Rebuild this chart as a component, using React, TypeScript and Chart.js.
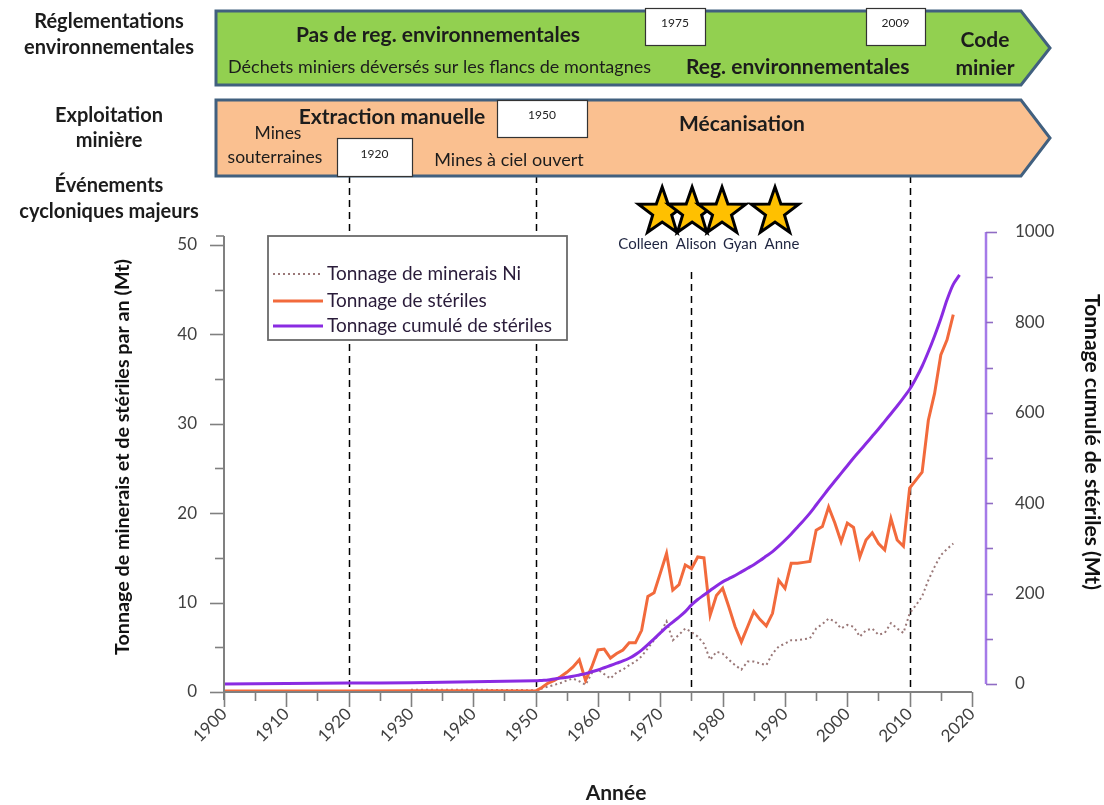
import React, { useEffect, useRef } from 'react';
import { Chart, registerables } from 'chart.js';
Chart.register(...registerables);

const years = [1900, 1910, 1920, 1930, 1940,
  1950, 1951, 1952, 1953, 1954, 1955, 1956, 1957, 1958, 1959,
  1960, 1961, 1962, 1963, 1964, 1965, 1966, 1967, 1968, 1969,
  1970, 1971, 1972, 1973, 1974, 1975, 1976, 1977, 1978, 1979,
  1980, 1981, 1982, 1983, 1984, 1985, 1986, 1987, 1988, 1989,
  1990, 1991, 1992, 1993, 1994, 1995, 1996, 1997, 1998, 1999,
  2000, 2001, 2002, 2003, 2004, 2005, 2006, 2007, 2008, 2009,
  2010, 2011, 2012, 2013, 2014, 2015, 2016, 2017, 2018];

const minerai = [null, null, null, 0.25, 0.25,
  0.2, 0.4, 0.6, 0.8, 1.0, 1.3, 1.5, 1.2, 0.8, 2.1,
  2.5, 2.0, 1.5, 2.2, 2.5, 3.0, 3.4, 4.0, 4.9, 5.8,
  6.6, 7.9, 5.8, 6.4, 7.1, 6.7, 6.2, 5.4, 3.6, 4.5,
  4.3, 3.6, 3.0, 2.5, 3.4, 3.4, 3.2, 3.0, 4.3, 5.1,
  5.4, 5.8, 5.8, 5.9, 6.0, 7.1, 7.6, 8.2, 7.9, 7.1,
  7.5, 7.3, 6.2, 6.9, 7.1, 6.4, 6.6, 7.7, 7.1, 6.6,
  8.8, 9.7, 10.7, 12.5, 14.0, 15.3, 16.0, 16.6, null];

const steriles = [0.1, 0.1, 0.1, 0.15, 0.15,
  0.1, 0.5, 1.0, 1.3, 1.7, 2.2, 2.8, 3.6, 1.3, 2.8,
  4.7, 4.8, 3.8, 4.3, 4.7, 5.5, 5.5, 6.9, 10.7, 11.1,
  13.3, 15.5, 11.4, 12.0, 14.2, 13.8, 15.1, 15.0, 8.6, 10.8,
  11.6, 9.5, 7.3, 5.6, 7.3, 9.0, 8.1, 7.4, 8.8, 12.5,
  11.6, 14.4, 14.4, 14.5, 14.6, 18.1, 18.5, 20.7, 18.9, 16.8,
  18.9, 18.4, 15.1, 17.0, 17.8, 16.6, 15.9, 19.4, 17.0, 16.3,
  22.8, 23.7, 24.6, 30.4, 33.4, 37.7, 39.4, 42.2, null];

const cumul = [0, 1, 2, 3, 5,
  7, 8, 9, 11, 13, 15, 17, 20, 23, 27,
  31, 36, 41, 46, 51, 57, 65, 75, 87, 100,
  113, 126, 137, 148, 160, 175, 187, 197, 207, 217,
  226, 233, 240, 248, 256, 264, 273, 283, 293, 305,
  318, 332, 347, 362, 378, 396, 414, 432, 449, 466,
  483, 500, 516, 532, 548, 564, 581, 598, 615, 633,
  652, 676, 703, 735, 770, 808, 850, 884, 905];

const seriesLabels = ['Tonnage de minerais Ni', 'Tonnage de stériles', 'Tonnage cumulé de stériles'];
const xTicks = [1900, 1905, 1910, 1915, 1920, 1925, 1930, 1935, 1940, 1945, 1950, 1955, 1960, 1965, 1970, 1975, 1980, 1985, 1990, 1995, 2000, 2005, 2010, 2015, 2020];
const leftTicks = [0, 5, 10, 15, 20, 25, 30, 35, 40, 45, 50];
const rightTicks = [0, 100, 200, 300, 400, 500, 600, 700, 800, 900, 1000];
const markerYears = [1920, 1950, 1975, 2010];
const cycloneNames = ['Colleen', 'Alison', 'Gyan', 'Anne'];
const cycloneYears = [1970.3, 1975.1, 1979.9, 1988.4];

const xTitle = 'Année';
const leftTitle = 'Tonnage de minerais et de stériles par an (Mt)';
const rightTitle = 'Tonnage cumulé de stériles (Mt)';

const FONT = 'Lato, "Open Sans", sans-serif';
const C_NI = '#9a7878';
const C_ST = '#f26a3c';
const C_CU = '#8a2be2';

function star(ctx: CanvasRenderingContext2D, cx: number, cy: number, R: number, r: number) {
  ctx.beginPath();
  for (let i = 0; i < 10; i++) {
    const a = -Math.PI / 2 + (i * Math.PI) / 5;
    const rad = i % 2 === 0 ? R : r;
    const px = cx + rad * Math.cos(a);
    const py = cy + rad * Math.sin(a);
    if (i === 0) ctx.moveTo(px, py); else ctx.lineTo(px, py);
  }
  ctx.closePath();
}

function band(ctx: CanvasRenderingContext2D, x0: number, y0: number, y1: number, xc: number, xt: number, fill: string) {
  ctx.beginPath();
  ctx.moveTo(x0, y0);
  ctx.lineTo(xc, y0);
  ctx.lineTo(xt, (y0 + y1) / 2);
  ctx.lineTo(xc, y1);
  ctx.lineTo(x0, y1);
  ctx.closePath();
  ctx.fillStyle = fill;
  ctx.fill();
  ctx.lineWidth = 3;
  ctx.strokeStyle = '#41607f';
  ctx.lineJoin = 'miter';
  ctx.stroke();
}

function text(ctx: CanvasRenderingContext2D, s: string, x: number, y: number, font: string, align: CanvasTextAlign = 'center', color = '#1c1c1c') {
  ctx.font = font;
  ctx.textAlign = align;
  ctx.textBaseline = 'middle';
  ctx.fillStyle = color;
  ctx.fillText(s, x, y);
}

function box(ctx: CanvasRenderingContext2D, x0: number, y0: number, x1: number, y1: number, label: string) {
  ctx.fillStyle = '#ffffff';
  ctx.fillRect(x0, y0, x1 - x0, y1 - y0);
  ctx.lineWidth = 1.2;
  ctx.strokeStyle = '#333333';
  ctx.setLineDash([]);
  ctx.strokeRect(x0 + 0.5, y0 + 0.5, x1 - x0, y1 - y0);
  text(ctx, label, (x0 + x1) / 2, (y0 + y1) / 2 - 3, `12px ${FONT}`, 'center', '#222');
}

const overlay = {
  id: 'overlay',
  beforeDatasetsDraw(chart: any) {
    const ctx = chart.ctx as CanvasRenderingContext2D;
    const xs = chart.scales.x;
    const yl = chart.scales.y;
    const tops = [176, 176, 272, 176];
    ctx.save();
    ctx.setLineDash([7, 5]);
    ctx.strokeStyle = '#000';
    ctx.lineWidth = 1.5;
    markerYears.forEach((yr, i) => {
      const px = Math.round(xs.getPixelForValue(yr)) + 0.5;
      ctx.beginPath();
      ctx.moveTo(px, tops[i]);
      ctx.lineTo(px, yl.getPixelForValue(0));
      ctx.stroke();
    });
    ctx.restore();
  },
  afterDraw(chart: any) {
    const ctx = chart.ctx as CanvasRenderingContext2D;
    const xs = chart.scales.x;
    const yl = chart.scales.y;
    const yr = chart.scales.y1;
    const ca = chart.chartArea;
    ctx.save();
    ctx.setLineDash([]);

    // left axis
    const y0 = yl.getPixelForValue(0);
    ctx.strokeStyle = '#808080';
    ctx.lineWidth = 2;
    ctx.beginPath();
    ctx.moveTo(ca.left, yl.getPixelForValue(50) - 9);
    ctx.lineTo(ca.left, y0 + 8);
    ctx.stroke();
    ctx.lineWidth = 1.6;
    leftTicks.forEach((v) => {
      const py = Math.round(yl.getPixelForValue(v)) + 0.5;
      const len = v % 10 === 0 ? 14 : 9;
      ctx.beginPath();
      ctx.moveTo(ca.left - len, py);
      ctx.lineTo(ca.left, py);
      ctx.stroke();
    });
    ctx.beginPath();
    ctx.moveTo(ca.left - 8, yl.getPixelForValue(50) - 9);
    ctx.lineTo(ca.left, yl.getPixelForValue(50) - 9);
    ctx.stroke();

    // x axis
    const xEnd = xs.getPixelForValue(2020);
    ctx.lineWidth = 2;
    ctx.beginPath();
    ctx.moveTo(ca.left, y0);
    ctx.lineTo(xEnd, y0);
    ctx.stroke();
    ctx.lineWidth = 1.6;
    xTicks.forEach((v) => {
      const px = Math.round(xs.getPixelForValue(v)) + 0.5;
      const len = v % 10 === 0 ? 15 : 9;
      ctx.beginPath();
      ctx.moveTo(px, y0);
      ctx.lineTo(px, y0 + len);
      ctx.stroke();
    });

    // right axis
    const rx = ca.right;
    const r0 = yr.getPixelForValue(0);
    const r1 = yr.getPixelForValue(1000);
    ctx.strokeStyle = '#a57ae8';
    ctx.lineWidth = 2.5;
    ctx.beginPath();
    ctx.moveTo(rx, r1);
    ctx.lineTo(rx, r0);
    ctx.stroke();
    ctx.lineWidth = 1.6;
    ctx.strokeStyle = '#8f6cc4';
    rightTicks.forEach((v) => {
      const py = Math.round(yr.getPixelForValue(v)) + 0.5;
      const len = v === 0 || v === 1000 ? 11 : 7;
      ctx.beginPath();
      ctx.moveTo(rx, py);
      ctx.lineTo(rx + len, py);
      ctx.stroke();
    });

    // axis titles
    text(ctx, xTitle, 616, 793, `bold 21px ${FONT}`, 'center', '#1c1c1c');
    ctx.save();
    ctx.translate(123, 457);
    ctx.rotate(-Math.PI / 2);
    text(ctx, leftTitle, 0, 0, `bold 19.7px ${FONT}`, 'center', '#111');
    ctx.restore();
    ctx.save();
    ctx.translate(1092, 442);
    ctx.rotate(Math.PI / 2);
    text(ctx, rightTitle, 0, 0, `bold 21px ${FONT}`, 'center', '#111');
    ctx.restore();

    // legend
    const ds = chart.data.datasets;
    ctx.fillStyle = '#fff';
    ctx.fillRect(268, 236, 299, 104);
    ctx.strokeStyle = '#6a6a6a';
    ctx.lineWidth = 1.8;
    ctx.strokeRect(268, 236, 299, 104);
    const ly = [274, 301, 326];
    [0, 1, 2].forEach((i) => {
      const d = ds[i];
      ctx.strokeStyle = d.borderColor;
      ctx.lineWidth = i === 0 ? 2 : 3;
      ctx.setLineDash(i === 0 ? [2, 3] : []);
      ctx.beginPath();
      ctx.moveTo(273, ly[i]);
      ctx.lineTo(323, ly[i]);
      ctx.stroke();
      ctx.setLineDash([]);
      text(ctx, seriesLabels[i], 327, ly[i], `19px ${FONT}`, 'left', '#2a1c3a');
    });

    // stars
    const labelOff = [-19, 4, 18, 7];
    cycloneYears.forEach((yv) => {
      const cx = xs.getPixelForValue(yv);
      star(ctx, cx, 212, 25, 10);
      ctx.fillStyle = '#ffc000';
      ctx.fill();
      ctx.lineWidth = 3;
      ctx.strokeStyle = '#000';
      ctx.lineJoin = 'miter';
      ctx.stroke();
    });
    cycloneYears.forEach((yv, i) => {
      const cx = xs.getPixelForValue(yv);
      text(ctx, cycloneNames[i], cx + labelOff[i], 244, `15px ${FONT}`, 'center', '#1f2540');
    });

    // timeline bands
    band(ctx, 216, 11, 85, 1021, 1050, '#92d050');
    band(ctx, 216, 100, 176, 1021, 1050, '#fac090');

    text(ctx, 'Pas de reg. environnementales', 438, 35, `bold 21px ${FONT}`);
    text(ctx, 'Déchets miniers déversés sur les flancs de montagnes', 228, 67, `18px ${FONT}`, 'left');
    text(ctx, 'Reg. environnementales', 686, 67, `bold 21px ${FONT}`, 'left');
    text(ctx, 'Code', 985, 40, `bold 21px ${FONT}`);
    text(ctx, 'minier', 985, 68, `bold 21px ${FONT}`);
    box(ctx, 645, 8, 705, 45, '1975');
    box(ctx, 866, 8, 925, 45, '2009');

    text(ctx, 'Extraction manuelle', 392, 117, `bold 21px ${FONT}`);
    text(ctx, 'Mines', 278, 133, `17.5px ${FONT}`);
    text(ctx, 'souterraines', 275, 157, `17.5px ${FONT}`);
    box(ctx, 337, 138, 412, 176, '1920');
    box(ctx, 497, 100, 587, 137, '1950');
    text(ctx, 'Mines à ciel ouvert', 509, 160, `18px ${FONT}`);
    text(ctx, 'Mécanisation', 742, 124, `bold 21px ${FONT}`);

    // left labels
    const lf = `bold 20px ${FONT}`;
    text(ctx, 'Réglementations', 109, 22, lf);
    text(ctx, 'environnementales', 109, 48, lf);
    text(ctx, 'Exploitation', 109, 116, lf);
    text(ctx, 'minière', 109, 141, lf);
    text(ctx, 'Événements', 109, 186, lf);
    text(ctx, 'cycloniques majeurs', 109, 212, lf);

    ctx.restore();
  },
};

export default function App() {
  const ref = useRef<HTMLCanvasElement>(null);
  useEffect(() => {
    const pts = (arr: (number | null)[]) => years.map((yv, i) => ({ x: yv, y: arr[i] }));
    const chart = new Chart(ref.current!, {
      type: 'line',
      data: {
        datasets: [
          { label: seriesLabels[0], data: pts(minerai) as any, borderColor: C_NI, borderWidth: 2, borderDash: [2, 3], pointRadius: 0, yAxisID: 'y', order: 2, tension: 0 },
          { label: seriesLabels[1], data: pts(steriles) as any, borderColor: C_ST, borderWidth: 3, pointRadius: 0, yAxisID: 'y', order: 1, tension: 0 },
          { label: seriesLabels[2], data: pts(cumul) as any, borderColor: C_CU, borderWidth: 3, pointRadius: 0, yAxisID: 'y1', order: 0, tension: 0.3 },
        ],
      },
      options: {
        responsive: false,
        animation: false,
        layout: { padding: { top: 232, left: 0, right: 0, bottom: 0 } },
        plugins: { legend: { display: false }, tooltip: { enabled: false } },
        scales: {
          x: {
            type: 'linear',
            min: 1900,
            max: 2022.25,
            afterBuildTicks: (s: any) => { s.ticks = xTicks.map((v) => ({ value: v })); },
            afterFit: (s: any) => { s.height = 113; },
            grid: { display: false, drawTicks: false },
            border: { display: false },
            ticks: {
              autoSkip: false,
              maxRotation: 45,
              minRotation: 45,
              padding: 12,
              color: '#404040',
              font: { family: FONT, size: 17 },
              callback: (v: any) => (Number(v) % 10 === 0 ? String(v) : ''),
            },
          },
          y: {
            type: 'linear',
            position: 'left',
            min: 0,
            max: 51.454,
            afterBuildTicks: (s: any) => { s.ticks = leftTicks.map((v) => ({ value: v })); },
            afterFit: (s: any) => { s.width = 224; },
            grid: { display: false, drawTicks: false },
            border: { display: false },
            ticks: {
              padding: 27,
              color: '#404040',
              font: { family: FONT, size: 17 },
              callback: (v: any) => (Number(v) % 10 === 0 ? String(v) : ''),
            },
          },
          y1: {
            type: 'linear',
            position: 'right',
            min: -17.7,
            max: 1000,
            afterBuildTicks: (s: any) => { s.ticks = rightTicks.map((v) => ({ value: v })); },
            afterFit: (s: any) => { s.width = 118; },
            grid: { display: false, drawTicks: false },
            border: { display: false },
            ticks: {
              padding: 29,
              color: '#404040',
              font: { family: FONT, size: 17 },
              callback: (v: any) => (Number(v) % 200 === 0 ? String(v) : ''),
            },
          },
        },
      },
      plugins: [overlay],
    });
    return () => chart.destroy();
  }, []);
  return (
    <div style={{ position: 'fixed', left: 0, top: 0, width: 1104, height: 805, background: '#fff' }}>
      <canvas ref={ref} width={1104} height={805} style={{ display: 'block', width: 1104, height: 805 }} />
    </div>
  );
}
